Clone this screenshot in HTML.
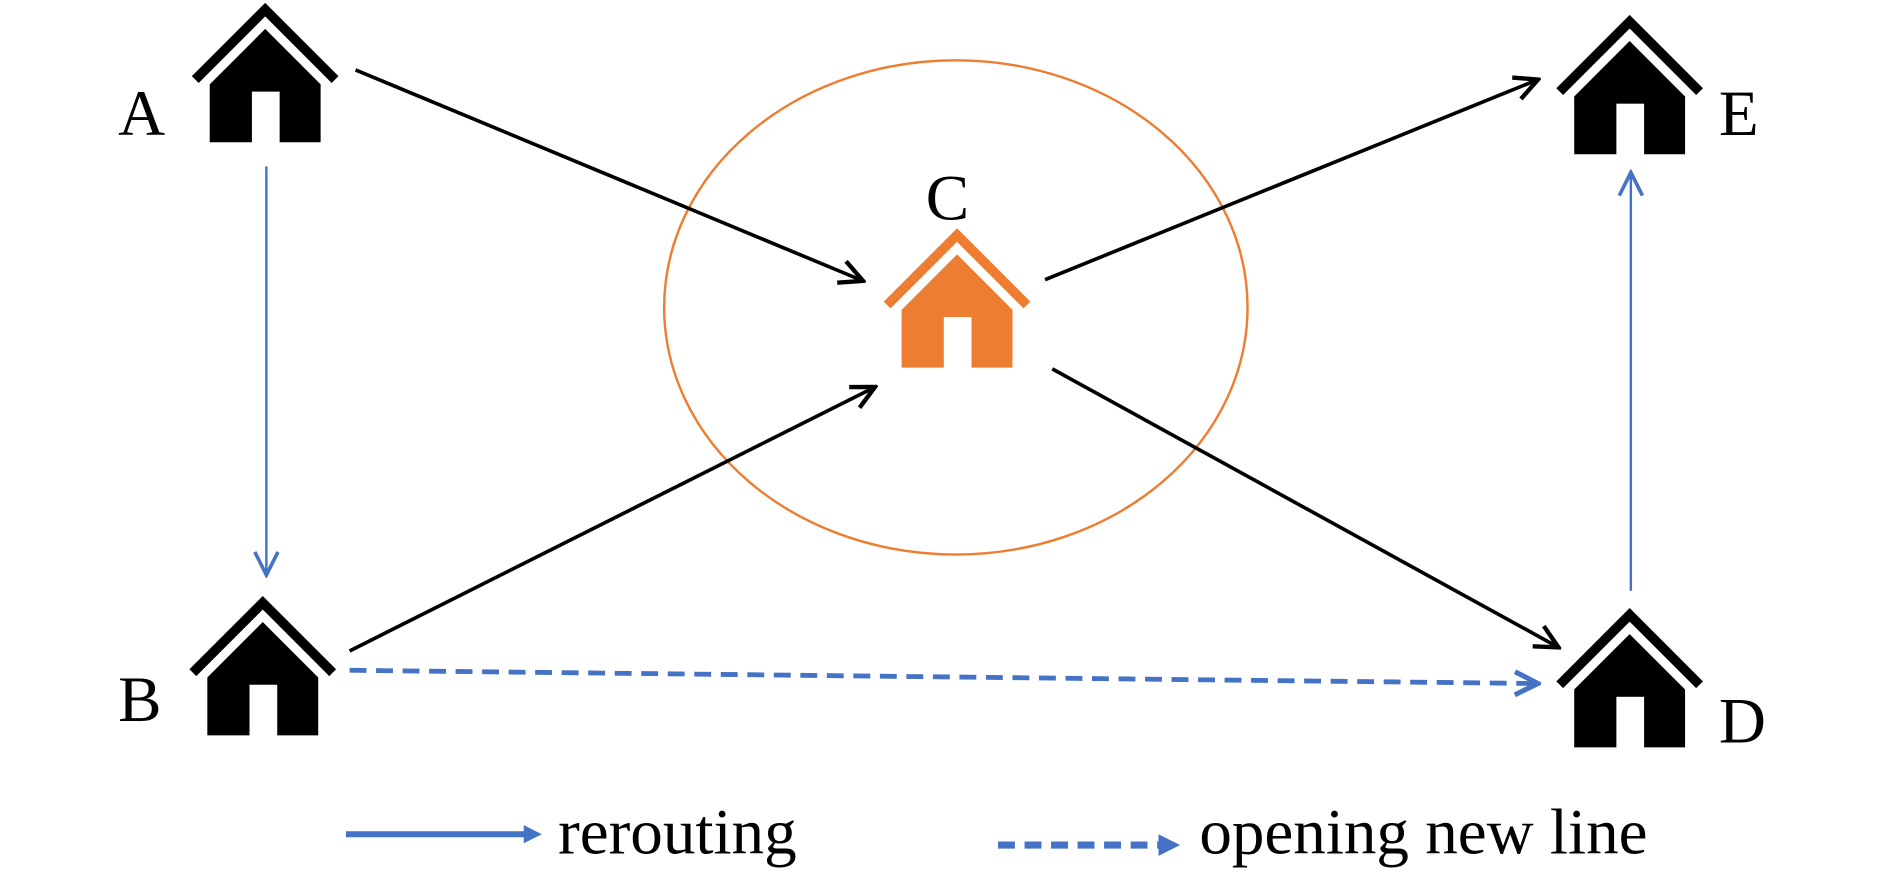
<!DOCTYPE html>
<html><head><meta charset="utf-8"><style>
html,body{margin:0;padding:0;background:#fff;}
svg{display:block;}
text{font-family:"Liberation Serif",serif;fill:#000;}
</style></head><body>
<svg width="1890" height="874" viewBox="0 0 1568 725" preserveAspectRatio="none" xmlns="http://www.w3.org/2000/svg">
<defs>
<marker id="ak" viewBox="0 0 20 20" refX="18" refY="10" markerWidth="8" markerHeight="8" orient="auto" markerUnits="strokeWidth">
<polyline points="2,2 18,10 2,18" fill="none" stroke="#000" stroke-width="3"/></marker>
<marker id="ab" viewBox="0 0 20 20" refX="18" refY="10" markerWidth="12" markerHeight="12" orient="auto" markerUnits="strokeWidth">
<polyline points="2,2 18,10 2,18" fill="none" stroke="#4472C4" stroke-width="2.5"/></marker>
<marker id="ad" viewBox="0 0 20 20" refX="18" refY="10" markerWidth="6" markerHeight="6" orient="auto" markerUnits="strokeWidth">
<polyline points="2,2 18,10 2,18" fill="none" stroke="#4472C4" stroke-width="3.5"/></marker>
<marker id="al" viewBox="0 0 20 20" refX="10" refY="10" markerWidth="3" markerHeight="3" orient="auto" markerUnits="strokeWidth">
<polygon points="0,0 20,10 0,20" fill="#4472C4"/></marker>
<g id="house">
<polyline points="-58,58 0,0 58,58" fill="none" stroke="currentColor" stroke-width="8"/>
<polygon points="-46,62 0,16 46,62 46,110 -46,110" fill="currentColor"/>
<rect x="-11" y="68" width="23" height="43" fill="#fff"/>
</g>
</defs>
<ellipse cx="793" cy="255" rx="242" ry="205" fill="none" stroke="#ED7D31" stroke-width="2"/>
<use href="#house" x="220" y="8" style="color:#000"/>
<use href="#house" x="218" y="500" style="color:#000"/>
<use href="#house" x="1352" y="18" style="color:#000"/>
<use href="#house" x="1352" y="510" style="color:#000"/>
<use href="#house" x="794" y="195" style="color:#ED7D31"/>
<g stroke="#000" stroke-width="3" fill="none">
<line x1="295" y1="58" x2="716" y2="233" marker-end="url(#ak)"/>
<line x1="290" y1="540" x2="726" y2="321" marker-end="url(#ak)"/>
<line x1="867" y1="232" x2="1276" y2="66" marker-end="url(#ak)"/>
<line x1="873" y1="306" x2="1293" y2="537" marker-end="url(#ak)"/>
</g>
<g stroke="#4472C4" stroke-width="2" fill="none">
<line x1="221" y1="138" x2="221" y2="477" marker-end="url(#ab)"/>
<line x1="1353" y1="490" x2="1353" y2="143" marker-end="url(#ab)"/>
<line x1="290" y1="556" x2="1276" y2="567" stroke-width="4" stroke-dasharray="14 8" marker-end="url(#ad)"/>
<line x1="287" y1="692" x2="442" y2="692" stroke-width="5" marker-end="url(#al)"/>
<line x1="828" y1="701" x2="970" y2="701" stroke-width="6" stroke-dasharray="14 8" marker-end="url(#al)"/>
</g>
<g font-size="54">
<text x="98" y="112">A</text>
<text x="98" y="598">B</text>
<text x="768" y="182">C</text>
<text x="1426" y="112">E</text>
<text x="1426" y="616">D</text>
<text x="463" y="708">rerouting</text>
<text x="995" y="708">opening new line</text>
</g>
</svg>
</body></html>
